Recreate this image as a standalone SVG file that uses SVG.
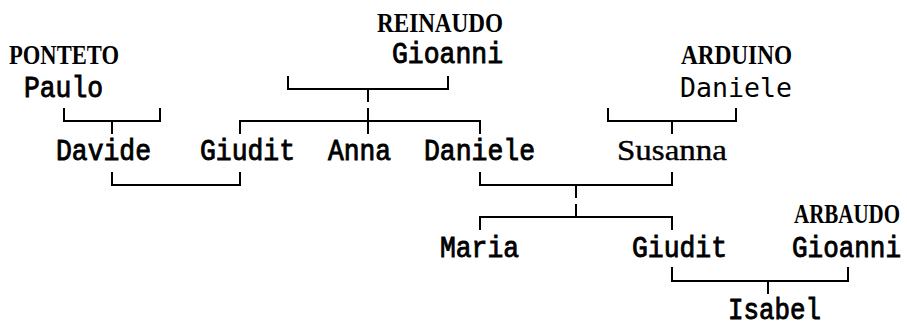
<svg xmlns="http://www.w3.org/2000/svg" width="907" height="322" viewBox="0 0 907 322">
<style>
.sur{font-family:"Liberation Serif",serif;font-weight:bold;font-size:27.5px;fill:#000}
.nm{font-family:"Liberation Mono",monospace;font-size:29px;fill:#000;stroke:#000;stroke-width:0.9}
.mono{font-family:"DejaVu Sans Mono",monospace;font-size:26.5px;fill:#000}
.ser{font-family:"Liberation Serif",serif;font-size:29.5px;fill:#000;stroke:#000;stroke-width:0.4}
.ln{fill:none;stroke:#000;stroke-width:2;stroke-linejoin:miter}
</style>
<rect width="907" height="322" fill="#fff"/>
<g id="connectors">
<polyline class="ln" points="64,108 64,121 160,121 160,108"/>
<line class="ln" x1="112" y1="121" x2="112" y2="134"/>
<polyline class="ln" points="288,76 288,89 448,89 448,76"/>
<line class="ln" x1="368" y1="89" x2="368" y2="102"/>
<line class="ln" x1="368" y1="108" x2="368" y2="134"/>
<polyline class="ln" points="240,134 240,121 480,121 480,134"/>
<polyline class="ln" points="608,108 608,121 736,121 736,108"/>
<line class="ln" x1="672" y1="121" x2="672" y2="134"/>
<polyline class="ln" points="112,172 112,185 240,185 240,172"/>
<polyline class="ln" points="480,172 480,185 672,185 672,172"/>
<line class="ln" x1="576" y1="185" x2="576" y2="198"/>
<line class="ln" x1="576" y1="204" x2="576" y2="217"/>
<polyline class="ln" points="480,230 480,217 672,217 672,230"/>
<polyline class="ln" points="672,267 672,281 848,281 848,267"/>
<line class="ln" x1="768" y1="281" x2="768" y2="294"/>
</g>
<g id="paulo"><text class="sur" x="9" y="64" textLength="110" lengthAdjust="spacingAndGlyphs">PONTETO</text><text class="nm" x="24" y="97" textLength="79" lengthAdjust="spacingAndGlyphs">Paulo</text></g>
<g id="gioanni-reinaudo"><text class="sur" x="377" y="32" textLength="126" lengthAdjust="spacingAndGlyphs">REINAUDO</text><text class="nm" x="392" y="63" textLength="111" lengthAdjust="spacingAndGlyphs">Gioanni</text></g>
<g id="daniele-arduino"><text class="sur" x="681" y="64" textLength="111" lengthAdjust="spacingAndGlyphs">ARDUINO</text><text class="mono" x="680" y="97" textLength="112" lengthAdjust="spacingAndGlyphs">Daniele</text></g>
<g id="davide"><text class="nm" x="56" y="160" textLength="95" lengthAdjust="spacingAndGlyphs">Davide</text></g>
<g id="giudit1"><text class="nm" x="200" y="160" textLength="95" lengthAdjust="spacingAndGlyphs">Giudit</text></g>
<g id="anna"><text class="nm" x="328" y="160" textLength="63" lengthAdjust="spacingAndGlyphs">Anna</text></g>
<g id="daniele"><text class="nm" x="424" y="160" textLength="111" lengthAdjust="spacingAndGlyphs">Daniele</text></g>
<g id="susanna"><text class="ser" x="617" y="160" textLength="110" lengthAdjust="spacingAndGlyphs">Susanna</text></g>
<g id="maria"><text class="nm" x="440" y="257" textLength="79" lengthAdjust="spacingAndGlyphs">Maria</text></g>
<g id="giudit2"><text class="nm" x="632" y="257" textLength="95" lengthAdjust="spacingAndGlyphs">Giudit</text></g>
<g id="gioanni-arbaudo"><text class="sur" x="794" y="223" textLength="106" lengthAdjust="spacingAndGlyphs">ARBAUDO</text><text class="nm" x="792" y="257" textLength="109" lengthAdjust="spacingAndGlyphs">Gioanni</text></g>
<g id="isabel"><text class="nm" x="728" y="319" textLength="93" lengthAdjust="spacingAndGlyphs">Isabel</text></g>
</svg>
